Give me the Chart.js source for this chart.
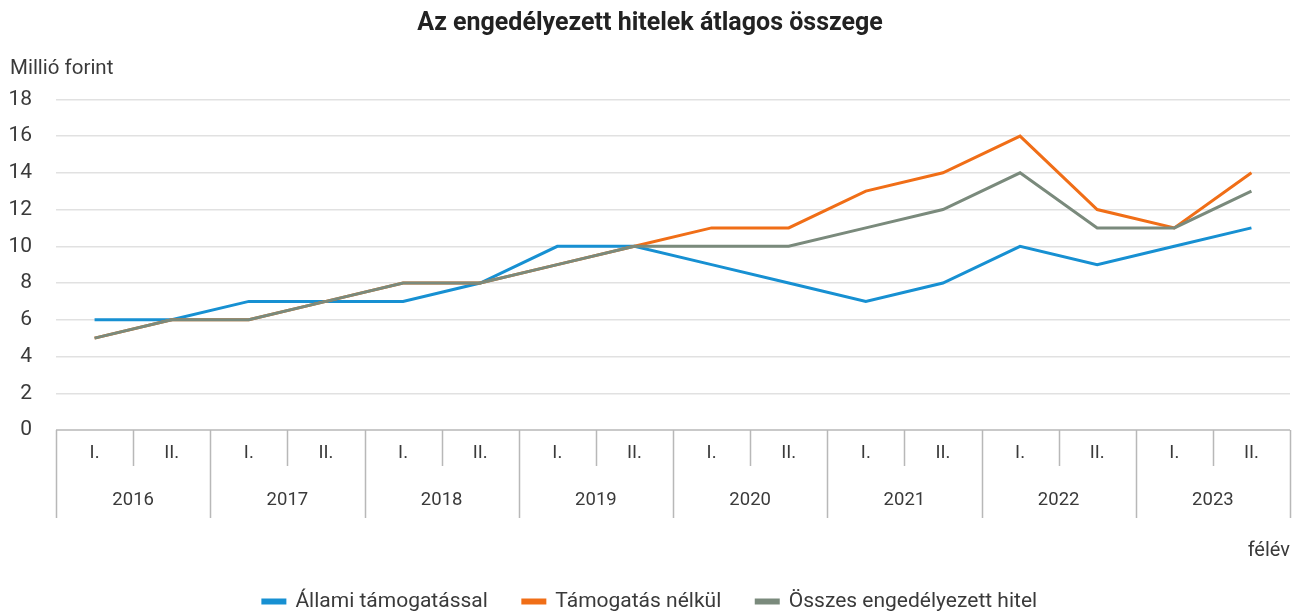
<!DOCTYPE html>
<html>
<head>
<meta charset="utf-8">
<script src="https://cdn.jsdelivr.net/npm/chart.js@4/dist/chart.umd.min.js"></script>
<style>
  html, body { margin: 0; padding: 0; background: #fff; }
  #wrap { width: 1293px; height: 611px; }
</style>
</head>
<body>
<div id="wrap"><canvas id="c" width="1293" height="611"></canvas></div>
<script>
const years = ['2016', '2017', '2018', '2019', '2020', '2021', '2022', '2023'];
const halves = ['I.', 'II.'];
const categories = years.flatMap(y => halves.map(h => y + ' ' + h));
const allami = [6, 6, 7, 7, 7, 8, 10, 10, 9, 8, 7, 8, 10, 9, 10, 11];
const nelkul = [5, 6, 6, 7, 8, 8, 9, 10, 11, 11, 13, 14, 16, 12, 11, 14];
const osszes = [5, 6, 6, 7, 8, 8, 9, 10, 10, 10, 11, 12, 14, 11, 11, 13];
const yTicks = [0, 2, 4, 6, 8, 10, 12, 14, 16, 18];

const FONT = 'Roboto, "Noto Sans", sans-serif';
const TXT = '#3a3a3a';
const SEP = '#b8b8b8';

const separators = {
  id: 'separators',
  afterDraw(chart) {
    const ctx = chart.ctx;
    const x = chart.scales.x;
    const x2 = chart.scales.x2;
    const n = categories.length;
    const step = (x.right - x.left) / n;
    const top = chart.chartArea.bottom;
    const yearBottom = x2.top + 52;
    ctx.save();
    ctx.strokeStyle = SEP;
    ctx.lineWidth = 1.5;
    ctx.beginPath();
    ctx.moveTo(x.left, top);
    ctx.lineTo(x.right, top);
    for (let i = 0; i <= n; i++) {
      const px = Math.round(x.left + i * step) + 0.5;
      ctx.moveTo(px, top);
      ctx.lineTo(px, i % 2 === 0 ? yearBottom : x.bottom);
    }
    ctx.stroke();
    ctx.restore();
  }
};

new Chart(document.getElementById('c'), {
  type: 'line',
  data: {
    labels: categories,
    datasets: [
      { label: 'Állami támogatással', data: allami, borderColor: '#1790d2', backgroundColor: '#1790d2', order: 2 },
      { label: 'Támogatás nélkül', data: nelkul, borderColor: '#f06e17', backgroundColor: '#f06e17', order: 1 },
      { label: 'Összes engedélyezett hitel', data: osszes, borderColor: '#7a8a7c', backgroundColor: '#7a8a7c', order: 0 }
    ]
  },
  options: {
    responsive: false,
    animation: false,
    devicePixelRatio: 1,
    elements: { line: { borderWidth: 3, tension: 0 }, point: { radius: 0 } },
    layout: { padding: { left: 10, right: 3, top: 0, bottom: -11 } },
    plugins: {
      title: {
        display: true,
        text: 'Az engedélyezett hitelek átlagos összege',
        color: '#222',
        font: { family: FONT, size: 25, weight: 'bold' },
        padding: { top: 9, bottom: 17.7 }
      },
      subtitle: {
        display: true,
        text: 'Millió forint',
        align: 'start',
        color: TXT,
        font: { family: FONT, size: 20.5 },
        padding: { top: 0, bottom: 18 }
      },
      legend: {
        position: 'bottom',
        labels: {
          boxWidth: 22,
          boxHeight: 3,
          color: TXT,
          font: { family: FONT, size: 21 },
          padding: 35,
          sort: (a, b) => a.datasetIndex - b.datasetIndex
        }
      },
      tooltip: { enabled: false }
    },
    scales: {
      y: {
        min: 0,
        max: 18,
        afterBuildTicks(s) { s.ticks = yTicks.map(v => ({ value: v })); },
        afterFit(s) { s.width = 46; },
        border: { display: false },
        grid: { color: ctx => ctx.tick && ctx.tick.value === 0 ? 'rgba(0,0,0,0)' : '#e1e1e1', lineWidth: 1.5, drawTicks: false },
        ticks: { color: TXT, font: { family: FONT, size: 21 }, padding: 24 }
      },
      x: {
        type: 'category',
        offset: true,
        border: { display: false },
        grid: { display: false, drawTicks: false },
        afterFit(s) { s.height = 36; },
        ticks: {
          color: TXT,
          font: { family: FONT, size: 18.5 },
          padding: 12,
          maxRotation: 0,
          autoSkip: false,
          callback: (v, i) => halves[i % 2]
        }
      },
      x2: {
        type: 'category',
        position: 'bottom',
        labels: years,
        offset: true,
        border: { display: false },
        grid: { display: false, drawTicks: false },
        afterFit(s) { s.height = 90; },
        ticks: { color: TXT, font: { family: FONT, size: 18.5 }, padding: 23, maxRotation: 0, autoSkip: false },
        title: {
          display: true,
          text: 'félév',
          align: 'end',
          color: TXT,
          font: { family: FONT, size: 20 },
          padding: { top: 0, bottom: -7 }
        }
      }
    }
  },
  plugins: [separators]
});
</script>
</body>
</html>
